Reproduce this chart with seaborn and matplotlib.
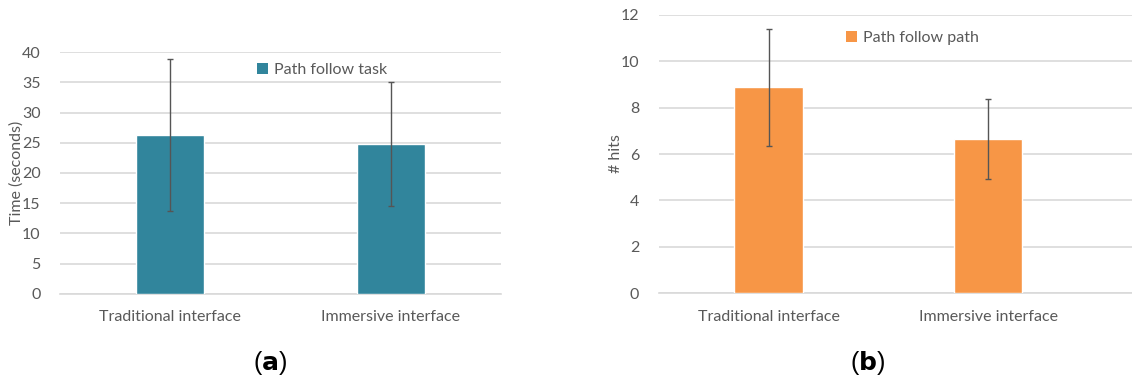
import matplotlib
matplotlib.use("Agg")
import matplotlib.pyplot as plt
import seaborn as sns
import pandas as pd
from matplotlib.patches import Patch

categories = ["Traditional interface", "Immersive interface"]
time_means = [26.3, 24.75]
time_err = [12.6, 10.3]
hits_means = [8.87, 6.66]
hits_err = [2.52, 1.73]

sns.set_theme(style="white")
plt.rcParams['font.family'] = ['Lato', 'DejaVu Sans']

TEAL = "#31859C"
ORANGE = "#F79646"
TXT = "#595959"
GRID = "#D9D9D9"

fig = plt.figure(figsize=(11.32, 3.85), dpi=100)
ax1 = fig.add_axes([60/1132, 1-293.7/385, (501-60)/1132, (293.7-52.3)/385])
ax2 = fig.add_axes([658.7/1132, 1-293.3/385, (1132-658.7)/1132, (293.3-14.7)/385])

def draw(ax, means, errs, color, ylim, yticks, ylabel, legend_label, xlim, leg_anchor):
    df = pd.DataFrame({"cat": categories, "val": means})
    sns.barplot(data=df, x="cat", y="val", color=color, width=0.31, ax=ax,
                saturation=1, errorbar=None, zorder=3)
    ax.errorbar(x=[0, 1], y=means, yerr=errs, fmt="none", ecolor="#555555",
                elinewidth=1.0, capsize=2.5, capthick=1.0, zorder=4)
    ax.set_ylim(*ylim)
    ax.set_xlim(*xlim)
    ax.set_yticks(yticks)
    ax.yaxis.grid(True, color=GRID, linewidth=1.2, zorder=0)
    ax.set_axisbelow(True)
    for s in ["top", "right", "left"]:
        ax.spines[s].set_visible(False)
    ax.spines["bottom"].set_color(GRID)
    ax.spines["bottom"].set_linewidth(1.2)
    ax.tick_params(axis="both", length=0, colors=TXT, labelsize=11.5)
    ax.tick_params(axis="y", pad=14)
    ax.tick_params(axis="x", pad=12)
    ax.set_xlabel("")
    ax.set_ylabel(ylabel, color=TXT, fontsize=11.5)
    handle = [Patch(facecolor=color, edgecolor="none", label=legend_label)]
    leg = ax.legend(handles=handle, loc="center left", bbox_to_anchor=leg_anchor,
                    frameon=False, fontsize=11.5, handlelength=0.7, handleheight=0.7,
                    handletextpad=0.35, borderpad=0)
    for t in leg.get_texts():
        t.set_color(TXT)

draw(ax1, time_means, time_err, TEAL, (0, 40), range(0, 41, 5), "Time (seconds)",
     "Path follow task", (-0.5, 1.5), (0.429, 0.925))
ax1.yaxis.set_label_coords(-0.082, 0.5)

draw(ax2, hits_means, hits_err, ORANGE, (0, 12), range(0, 13, 2), "# hits",
     "Path follow path", (-0.5, 1.655), (0.379, 0.917))
ax2.yaxis.set_label_coords(-0.075, 0.5)

fig.text(270/1132, 1-363/385, r"($\mathbf{a}$)", ha="center", va="center",
         fontsize=18, family="Liberation Sans", color="black")
fig.text(868/1132, 1-363/385, r"($\mathbf{b}$)", ha="center", va="center",
         fontsize=18, family="Liberation Sans", color="black")

fig.savefig("out.png", dpi=100, facecolor="white")
